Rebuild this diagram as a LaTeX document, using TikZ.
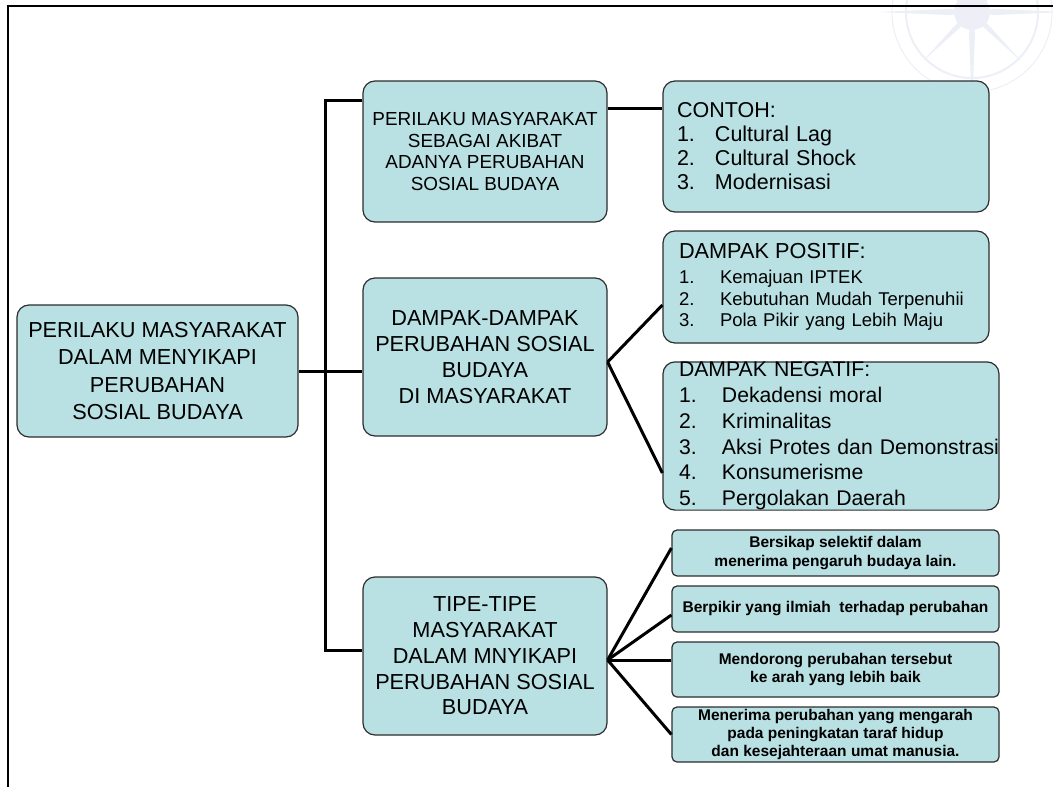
\documentclass[tikz,border=0pt]{standalone}
\usepackage{fontspec}
\setmainfont{Liberation Sans}
\usetikzlibrary{calc}
\definecolor{boxfill}{RGB}{185,224,227}
\definecolor{boxline}{RGB}{45,45,45}
\definecolor{compass}{RGB}{236,239,246}
\newcommand{\nomor}[3]{\mbox{\makebox[#1][l]{#2}#3}}

\begin{document}
\begin{tikzpicture}[x=1pt, y=-1pt,
		box/.style={draw=boxline, line width=1.2pt, fill=boxfill, rounded corners=12pt, inner sep=0pt, align=center},
		smallbox/.style={box, rounded corners=5pt, minimum width=327pt, font=\bfseries\fontsize{15.5}{18.3}\selectfont},
		conn/.style={line width=3pt}]
			%%%%% START %%%%%
			\useasboundingbox (0,0) rectangle (1053,787);
			
			\begin{scope}
			\clip (0,0) rectangle (1053,787);
			\draw[compass, line width=2pt] (972,12) circle (66);
			\draw[compass, line width=1pt] (972,12) circle (80);
			\fill[compass] (972,12) circle (18);
			\foreach \a in {0,90,180,270}
				\fill[compass] (972,12) -- ($(972,12)+(\a+8:22)$) -- ($(972,12)+(\a:95)$) -- ($(972,12)+(\a-8:22)$) -- cycle;
			\foreach \a in {45,135,225,315}
				\fill[compass] (972,12) -- ($(972,12)+(\a+10:16)$) -- ($(972,12)+(\a:70)$) -- ($(972,12)+(\a-10:16)$) -- cycle;
			\end{scope}
			
			\draw[line width=1.2pt] (8,787) -- (8,6) -- (1053,6);
			
			\node[box, minimum width=281pt, minimum height=132pt, font=\fontsize{21.7}{27.3}\selectfont] (akar) at (157.5,371) {PERILAKU MASYARAKAT\\DALAM MENYIKAPI\\PERUBAHAN\\SOSIAL BUDAYA};
			
			\node[box, minimum width=244pt, minimum height=141pt, font=\fontsize{18.9}{21.7}\selectfont] (akibat) at (485,151.5) {PERILAKU MASYARAKAT\\SEBAGAI AKIBAT\\ADANYA PERUBAHAN\\SOSIAL BUDAYA};
			\node[box, minimum width=244pt, minimum height=158pt, font=\fontsize{21.7}{26}\selectfont] (dampak) at (485,357) {DAMPAK-DAMPAK\\PERUBAHAN SOSIAL\\BUDAYA\\DI MASYARAKAT};
			\node[box, minimum width=244pt, minimum height=158pt, font=\fontsize{21.7}{25.7}\selectfont] (tipe) at (485,656) {TIPE-TIPE\\MASYARAKAT\\DALAM MNYIKAPI\\PERUBAHAN SOSIAL\\BUDAYA};
			
			\node[box, align=left, inner xsep=14pt, text width=298pt, minimum height=131pt, font=\fontsize{21.5}{24}\selectfont] (contoh) at (826,146.5) {CONTOH:\\\nomor{38pt}{1.}{Cultural Lag}\\\nomor{38pt}{2.}{Cultural Shock}\\\nomor{38pt}{3.}{Modernisasi}};
			\node[box, align=left, inner xsep=16pt, text width=294pt, minimum height=112pt, font=\fontsize{18.5}{21.5}\selectfont] (positif) at (826,287) {{\fontsize{21.7}{26}\selectfont DAMPAK POSITIF:}\\[4pt]\nomor{41pt}{1.}{Kemajuan IPTEK}\\\nomor{41pt}{2.}{Kebutuhan Mudah Terpenuhii}\\\nomor{41pt}{3.}{Pola Pikir yang Lebih Maju}};
			\node[box, align=left, inner xsep=16pt, text width=304pt, minimum height=148pt, font=\fontsize{21.2}{25.8}\selectfont] (negatif) at (831,436) {DAMPAK NEGATIF:\\\nomor{43pt}{1.}{Dekadensi moral}\\\nomor{43pt}{2.}{Kriminalitas}\\\nomor{43pt}{3.}{Aksi Protes dan Demonstrasi}\\\nomor{43pt}{4.}{Konsumerisme}\\\nomor{43pt}{5.}{Pergolakan Daerah}};
			
			\node[smallbox, minimum height=46pt] (selektif) at (835.5,553) {Bersikap selektif dalam\\menerima pengaruh budaya lain.};
			\node[smallbox, minimum height=46pt] (ilmiah) at (835.5,609) {Berpikir yang ilmiah\ \ terhadap perubahan};
			\node[smallbox, minimum height=55pt] (mendorong) at (835.5,669.5) {Mendorong perubahan tersebut\\ke arah yang lebih baik};
			\node[smallbox, minimum height=55pt] (menerima) at (835.5,734.5) {Menerima perubahan yang mengarah\\pada peningkatan taraf hidup\\dan kesejahteraan umat manusia.};
			
			\draw[conn] ([yshift=-20pt]akibat.north west) -- ++(-37,0) |- ([yshift=6pt]tipe.west);
			\draw[conn] (akar.east) -- (akar.east -| dampak.west);
			\draw[conn] ([yshift=-28pt]akibat.north east) -- ([yshift=-28pt]akibat.north east -| contoh.west);
			
			\draw[conn] ([yshift=-5pt]dampak.east) -- ([yshift=-18pt]positif.west);
			\draw[conn] ([yshift=-5pt]dampak.east) -- ([yshift=-37pt]negatif.west);
			
			\draw[conn] ([yshift=-4pt]tipe.east) -- ([yshift=5pt]selektif.west);
			\draw[conn] ([yshift=-4pt]tipe.east) -- ([yshift=-6pt]ilmiah.west);
			\draw[conn] ([yshift=-4pt]tipe.east) -- ([yshift=9.5pt]mendorong.west);
			\draw[conn] ([yshift=-4pt]tipe.east) -- (menerima.west);
			
			%%%%% END %%%%%
\end{tikzpicture}
\end{document}
